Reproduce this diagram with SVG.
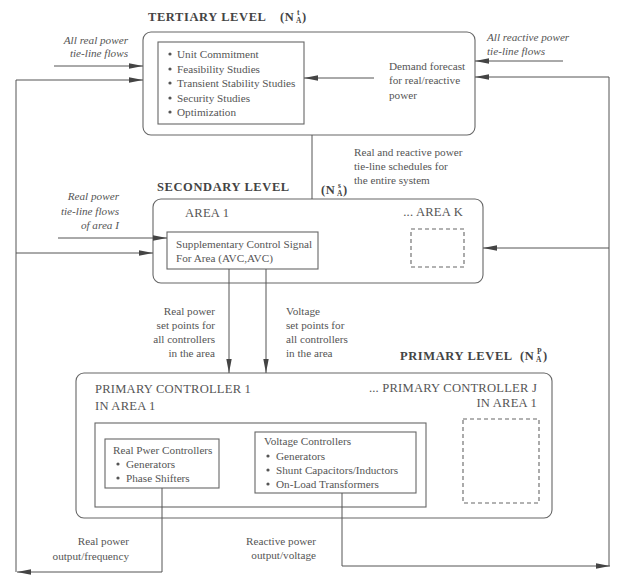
<svg xmlns="http://www.w3.org/2000/svg" width="622" height="577" viewBox="0 0 622 577">
<defs>
<style>
.t{font-family:"Liberation Serif","DejaVu Serif",serif;font-size:11.2px;fill:#555}
.i{font-family:"Liberation Serif","DejaVu Serif",serif;font-size:11.2px;fill:#555;font-style:italic}
.h{font-family:"Liberation Serif","DejaVu Serif",serif;font-size:12.5px;fill:#444;font-weight:bold;letter-spacing:0.6px}
.c{font-family:"Liberation Serif","DejaVu Serif",serif;font-size:12.6px;fill:#555;letter-spacing:0.2px}
.s{font-family:"Liberation Serif","DejaVu Serif",serif;font-size:7.5px;fill:#444;font-weight:bold}
.box{fill:none;stroke:#666;stroke-width:1.1}
.dash{fill:none;stroke:#666;stroke-width:1.1;stroke-dasharray:4 3}
.ln{fill:none;stroke:#555;stroke-width:1}
.ar{fill:none;stroke:#555;stroke-width:1;marker-end:url(#ah)}
</style>
<marker id="ah" markerWidth="15" markerHeight="7" refX="14" refY="3.5" orient="auto" markerUnits="userSpaceOnUse">
<path d="M0,0.8 L14,3.5 L0,6.2 Z" fill="#444"/>
</marker>
</defs>
<rect width="622" height="577" fill="#ffffff"/>

<g id="tertiary">
<text class="h" x="148" y="21">TERTIARY LEVEL</text>
<text class="h" x="280" y="21">(N</text><text class="s" x="297" y="15">t</text><text class="s" x="296" y="23">A</text><text class="h" x="302" y="21">)</text>
<rect class="box" x="143" y="32" width="332" height="103" rx="8"/>
<rect class="box" x="158" y="42" width="146" height="82"/>
<g class="t">
<circle cx="170" cy="54" r="1.6" fill="#555"/><text x="177" y="58">Unit Commitment</text>
<circle cx="170" cy="69" r="1.6" fill="#555"/><text x="177" y="73">Feasibility Studies</text>
<circle cx="170" cy="83" r="1.6" fill="#555"/><text x="177" y="87">Transient Stability Studies</text>
<circle cx="170" cy="98" r="1.6" fill="#555"/><text x="177" y="102">Security Studies</text>
<circle cx="170" cy="112" r="1.6" fill="#555"/><text x="177" y="116">Optimization</text>
</g>
<text class="t" x="389" y="70">Demand forecast</text>
<text class="t" x="389" y="84">for real/reactive</text>
<text class="t" x="389" y="99">power</text>
</g>

<g id="secondary">
<text class="h" x="157" y="191">SECONDARY LEVEL</text>
<text class="h" x="321" y="194">(N</text><text class="s" x="338" y="188">s</text><text class="s" x="337" y="196">A</text><text class="h" x="343" y="194">)</text>
<rect class="box" x="153" y="199" width="330" height="84" rx="8"/>
<text class="c" x="185" y="217">AREA 1</text>
<rect class="box" x="167" y="232" width="151" height="37"/>
<text class="t" x="176" y="248">Supplementary Control Signal</text>
<text class="t" x="176" y="262">For Area (AVC,AVC)</text>
<text class="c" x="463" y="216" text-anchor="end">... AREA K</text>
<rect class="dash" x="411" y="229" width="53" height="38"/>
</g>

<g id="primary">
<text class="h" x="400" y="360">PRIMARY LEVEL</text>
<text class="h" x="520" y="360">(N</text><text class="s" x="537" y="354">P</text><text class="s" x="536" y="362">A</text><text class="h" x="543" y="360">)</text>
<rect class="box" x="76" y="373" width="476" height="145" rx="8"/>
<text class="c" x="95" y="393">PRIMARY CONTROLLER 1</text>
<text class="c" x="95" y="410">IN AREA 1</text>
<text class="c" x="537" y="392" text-anchor="end">... PRIMARY CONTROLLER J</text>
<text class="c" x="537" y="407" text-anchor="end">IN AREA 1</text>
<rect class="box" x="95" y="423" width="331" height="84"/>
<rect class="dash" x="463" y="419" width="76" height="84"/>
</g>

<g id="realctrl">
<rect class="box" x="105" y="439" width="114" height="49"/>
<text class="t" x="113" y="454">Real Pwer Controllers</text>
<circle cx="118" cy="464" r="1.6" fill="#555"/><text class="t" x="126" y="468">Generators</text>
<circle cx="118" cy="478" r="1.6" fill="#555"/><text class="t" x="126" y="482">Phase Shifters</text>
</g>

<g id="voltctrl">
<rect class="box" x="255" y="432" width="161" height="61"/>
<text class="t" x="264" y="445">Voltage Controllers</text>
<circle cx="268" cy="456" r="1.6" fill="#555"/><text class="t" x="276" y="460">Generators</text>
<circle cx="268" cy="470" r="1.6" fill="#555"/><text class="t" x="276" y="474">Shunt Capacitors/Inductors</text>
<circle cx="268" cy="484" r="1.6" fill="#555"/><text class="t" x="276" y="488">On-Load Transformers</text>
</g>

<g id="labels">
<text class="i" x="128" y="44" text-anchor="end">All real power</text>
<text class="i" x="128" y="57" text-anchor="end">tie-line flows</text>
<text class="i" x="487" y="41">All reactive power</text>
<text class="i" x="487" y="55">tie-line flows</text>
<text class="t" x="354" y="156">Real and reactive power</text>
<text class="t" x="354" y="170">tie-line schedules for</text>
<text class="t" x="354" y="184">the entire system</text>
<text class="i" x="119" y="200" text-anchor="end">Real power</text>
<text class="i" x="119" y="215" text-anchor="end">tie-line flows</text>
<text class="i" x="119" y="229" text-anchor="end">of area I</text>
<text class="t" x="215" y="315" text-anchor="end">Real power</text>
<text class="t" x="215" y="329" text-anchor="end">set points for</text>
<text class="t" x="215" y="343" text-anchor="end">all controllers</text>
<text class="t" x="215" y="357" text-anchor="end">in the area</text>
<text class="t" x="286" y="315">Voltage</text>
<text class="t" x="286" y="329">set points for</text>
<text class="t" x="286" y="343">all controllers</text>
<text class="t" x="286" y="357">in the area</text>
<text class="t" x="129" y="545" text-anchor="end">Real power</text>
<text class="t" x="129" y="560" text-anchor="end">output/frequency</text>
<text class="t" x="316" y="545" text-anchor="end">Reactive power</text>
<text class="t" x="316" y="559" text-anchor="end">output/voltage</text>
</g>

<g id="connectors">
<line class="ar" x1="54" y1="66" x2="143" y2="66"/>
<path class="ar" d="M16,572 V80 H143"/>
<line class="ar" x1="563" y1="61" x2="475" y2="61"/>
<path class="ar" d="M609,566 V77 H475"/>
<line class="ar" x1="374" y1="78" x2="304" y2="78"/>
<line class="ln" x1="312" y1="135" x2="312" y2="199"/>
<line class="ar" x1="58" y1="238" x2="167" y2="238"/>
<line class="ar" x1="16" y1="253" x2="153" y2="253"/>
<line class="ar" x1="609" y1="248" x2="483" y2="248"/>
<line class="ar" x1="229" y1="269" x2="229" y2="373"/>
<line class="ar" x1="266" y1="269" x2="266" y2="373"/>
<path class="ar" d="M162,488 V572 H17"/>
<path class="ar" d="M342,493 V566 H610"/>
</g>
</svg>
